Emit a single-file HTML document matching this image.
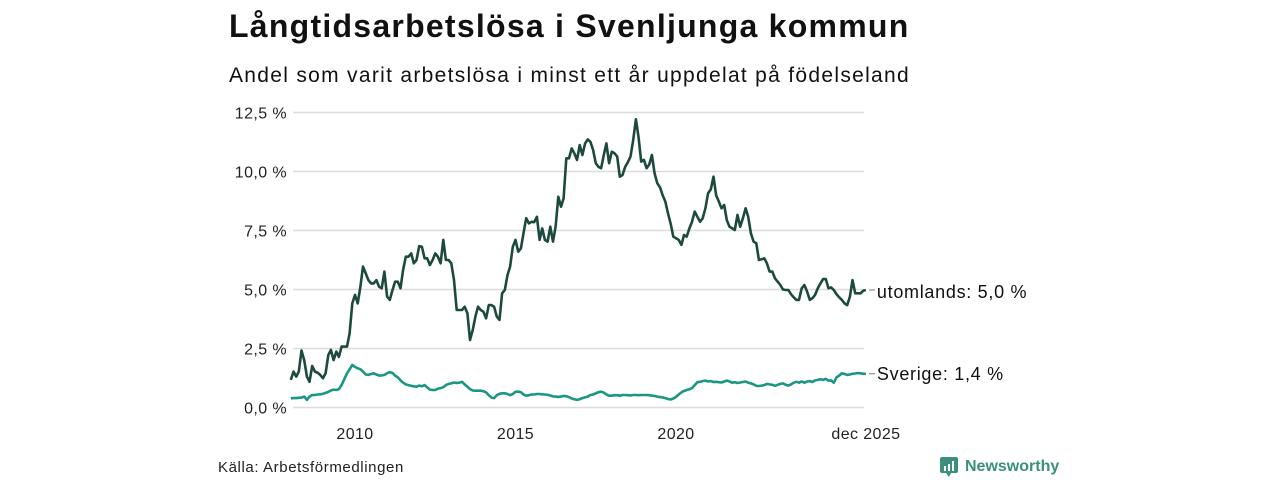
<!DOCTYPE html>
<html><head><meta charset="utf-8">
<style>
body{margin:0;width:1280px;height:480px;background:#fff;font-family:"Liberation Sans","DejaVu Sans",sans-serif;overflow:hidden;position:relative}
.t{position:absolute;white-space:nowrap;color:#111}
</style></head>
<body>
<div class="t" style="left:229px;top:8px;font-size:32px;font-weight:bold;letter-spacing:1.25px">Långtidsarbetslösa i Svenljunga kommun</div>
<div class="t" style="left:229px;top:64px;font-size:21px;letter-spacing:1.3px">Andel som varit arbetslösa i minst ett år uppdelat på födelseland</div>
<svg id="chart" width="1280" height="480" style="position:absolute;left:0;top:0"></svg>
<div class="t" style="left:218px;top:459px;font-size:15px;letter-spacing:0.6px;color:#222">Källa: Arbetsförmedlingen</div>
<div style="position:absolute;left:939px;top:456px;display:flex;align-items:center">
<svg width="20" height="22"><rect x="1" y="1" width="18" height="16" rx="2" fill="#3b8f7c"/><path d="M7 17 L10 21 L12 17Z" fill="#3b8f7c"/><rect x="5" y="10" width="2" height="5" fill="#fff"/><rect x="9" y="8" width="2" height="7" fill="#fff"/><rect x="13" y="5" width="2" height="10" fill="#fff"/></svg>
<span style="margin-left:6px;font-size:16px;font-weight:bold;color:#3b8f7c">Newsworthy</span>
</div>
<script>
const yTicks=[0,2.5,5,7.5,10,12.5];
const yTickLabels=["0,0 %","2,5 %","5,0 %","7,5 %","10,0 %","12,5 %"];
const xTicks=[2010,2015,2020,2025.917];
const xTickLabels=["2010","2015","2020","dec 2025"];
const startYear=2008;
const utomlands=[1.17,1.52,1.31,1.52,2.41,2.01,1.31,1.09,1.76,1.52,1.48,1.38,
1.24,1.45,2.22,2.44,2.01,2.37,2.15,2.58,2.58,2.58,3.14,4.41,
4.77,4.41,5.12,5.97,5.69,5.40,5.26,5.26,5.40,5.12,5.05,5.76,
4.70,4.56,4.98,5.33,5.33,5.05,5.83,6.39,6.39,6.53,6.11,6.25,
6.84,6.81,6.32,6.32,6.04,6.25,6.53,6.39,6.11,7.10,6.25,6.25,
6.11,5.40,4.13,4.13,4.13,4.27,3.99,2.86,3.28,3.85,4.27,4.13,
4.06,3.78,4.34,4.34,4.27,3.85,3.71,4.84,4.98,5.61,5.97,6.81,
7.10,6.60,6.74,7.38,8.02,7.80,7.87,7.85,8.08,7.10,7.59,7.10,
7.03,7.66,7.03,7.66,8.93,8.51,8.86,10.56,10.56,10.98,10.77,10.49,
11.12,10.70,11.19,11.36,11.26,10.91,10.35,10.20,10.14,10.70,11.19,10.35,
10.84,10.77,10.63,9.78,9.85,10.20,10.40,10.63,11.33,12.21,11.47,10.42,
10.49,10.14,10.30,10.70,9.92,9.50,9.33,9.00,8.73,8.23,7.80,7.24,
7.17,7.10,6.89,7.31,7.24,7.59,7.87,8.30,8.08,7.87,8.02,8.44,
9.08,9.24,9.78,9.00,8.73,8.44,8.58,7.94,7.66,7.59,7.52,8.16,
7.66,8.02,8.44,8.08,7.38,7.03,6.96,6.25,6.28,6.32,6.11,5.76,
5.76,5.47,5.33,5.19,5.00,4.98,4.98,4.80,4.67,4.56,4.56,5.05,
5.19,4.91,4.56,4.63,4.77,5.05,5.26,5.44,5.44,5.05,5.09,4.98,
4.80,4.67,4.56,4.41,4.34,4.70,5.40,4.84,4.84,4.84,4.95,4.98];
const sverige=[0.39,0.40,0.40,0.41,0.42,0.46,0.32,0.46,0.53,0.53,0.55,0.56,
0.58,0.62,0.66,0.72,0.76,0.74,0.78,0.95,1.20,1.45,1.62,1.80,
1.72,1.66,1.62,1.52,1.40,1.38,1.42,1.45,1.40,1.35,1.36,1.38,
1.45,1.50,1.46,1.35,1.28,1.15,1.05,0.98,0.95,0.92,0.90,0.88,
0.93,0.90,0.95,0.85,0.76,0.74,0.74,0.80,0.82,0.86,0.95,1.00,
1.02,1.06,1.04,1.05,1.09,0.98,0.88,0.78,0.72,0.71,0.71,0.71,
0.69,0.64,0.52,0.42,0.40,0.52,0.58,0.60,0.60,0.57,0.52,0.57,
0.67,0.67,0.65,0.55,0.50,0.52,0.55,0.55,0.57,0.57,0.56,0.55,
0.54,0.51,0.47,0.46,0.45,0.46,0.49,0.48,0.44,0.38,0.35,0.32,
0.35,0.40,0.43,0.46,0.53,0.55,0.60,0.65,0.67,0.63,0.55,0.50,
0.50,0.52,0.52,0.50,0.53,0.53,0.52,0.51,0.53,0.53,0.52,0.53,
0.53,0.53,0.52,0.50,0.49,0.46,0.44,0.43,0.40,0.36,0.34,0.38,
0.45,0.55,0.64,0.70,0.74,0.77,0.82,0.95,1.07,1.09,1.12,1.14,
1.10,1.12,1.08,1.09,1.07,1.06,1.10,1.14,1.10,1.05,1.07,1.04,
1.06,1.08,1.10,1.05,1.02,0.98,0.92,0.91,0.93,0.95,1.00,0.98,
0.96,0.92,0.96,1.00,1.02,0.96,0.93,0.98,1.05,1.09,1.05,1.10,
1.05,1.10,1.12,1.08,1.15,1.17,1.20,1.17,1.21,1.14,1.15,1.05,
1.28,1.35,1.45,1.42,1.38,1.40,1.43,1.44,1.46,1.45,1.43,1.43];
const NS="http://www.w3.org/2000/svg";
const svg=document.getElementById('chart');
const X=t=>355+(t-2010)*32.1;
const Y=v=>407.5-v*23.6;
function mk(tag,attrs){const e=document.createElementNS(NS,tag);for(const k in attrs)e.setAttribute(k,attrs[k]);svg.appendChild(e);return e;}
yTicks.forEach((v,i)=>{
  const g=mk('line',{x1:293,x2:864,y1:Y(v),y2:Y(v),stroke:'#dcdcdc','stroke-width':1.5});
  
  
  const t=mk('text',{x:287,y:Y(v)+6,'text-anchor':'end','font-size':16,'letter-spacing':0.4,fill:'#222'});
  t.textContent=yTickLabels[i];
  
  
});
xTicks.forEach((v,i)=>{
  const t=mk('text',{x:X(v),y:439,'text-anchor':'middle','font-size':16,'letter-spacing':0.4,fill:'#222'});
  t.textContent=xTickLabels[i];
  
  
});
function line(arr,color,name){
  const d=arr.map((v,i)=>(i?'L':'M')+X(startYear+i/12).toFixed(1)+' '+Y(v).toFixed(1)).join(' ');
  const p=mk('path',{d:d,fill:'none',stroke:color,'stroke-width':2.6,'stroke-linejoin':'round'});
  
  
  return p;
}
line(sverige,'#1b9683','line-sverige');
line(utomlands,'#1d4a3e','line-utomlands');
function endLabel(arr,txt,name,dy){
  const v=arr[arr.length-1];const xe=X(startYear+(arr.length-1)/12);
  const l=mk('line',{x1:xe+3,x2:xe+9,y1:Y(v),y2:Y(v),stroke:'#777','stroke-width':1});
  
  
  const t=mk('text',{x:xe+11,y:Y(v)+6+dy,'font-size':18,'letter-spacing':0.7,fill:'#111'});
  t.textContent=txt;
  
  
}
endLabel(utomlands,'utomlands: 5,0 %','label-utomlands',2);
endLabel(sverige,'Sverige: 1,4 %','label-sverige',0);
</script>
</body></html>
